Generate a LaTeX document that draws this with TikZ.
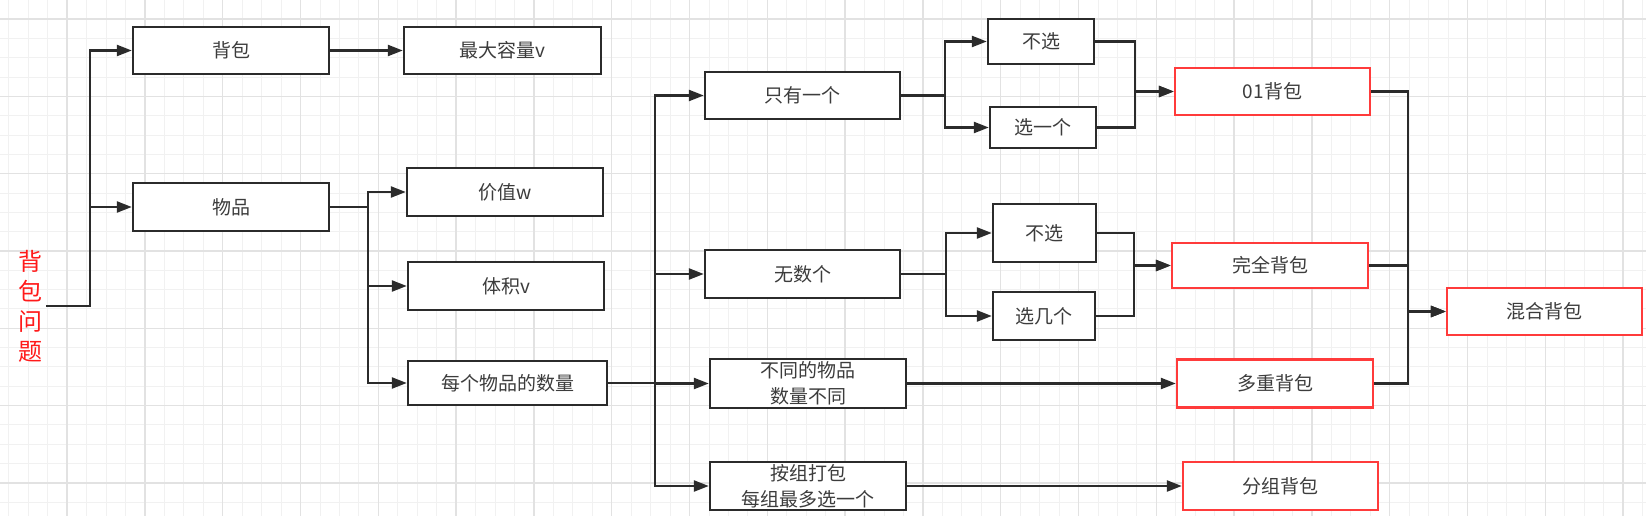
\documentclass[tikz,border=0pt]{standalone}
\usepackage{fontspec}
\setmainfont{Noto Sans CJK SC}
\usetikzlibrary{arrows.meta}
\definecolor{boxline}{HTML}{2B2B2B}
\definecolor{boxtext}{HTML}{3C3C3C}
\definecolor{redline}{HTML}{FF3B3B}
\definecolor{rootred}{HTML}{FF1A1A}
\definecolor{gridminor}{HTML}{F1F1F1}
\definecolor{gridmajor}{HTML}{E2E2E2}

\begin{document}
\begin{tikzpicture}[x=1pt,y=-1pt,->,>={Triangle[length=15pt,width=11pt]},line width=2.4pt,draw=boxline,
  main node/.style={draw=boxline,rectangle,fill=white,inner sep=0pt,minimum width=196pt,minimum height=47pt,align=center,text=boxtext,font=\fontsize{19}{26}\selectfont},
  red node/.style={main node,draw=redline,minimum width=195pt},
  small node/.style={main node,minimum width=106pt,minimum height=45pt}]
    \useasboundingbox (0,0) rectangle (1646,516);
    \fill[white] (0,0) rectangle (1646,516);

    % canvas grid
    \begin{scope}[-,line width=1pt]
        \foreach \i in {0,...,84}
            \draw[gridminor] ({8.8+19.45*\i},0) -- ++(0,516);
        \foreach \i in {0,...,27}
            \draw[gridminor] (0,{19.33*\i-0.3}) -- ++(1646,0);
        \foreach \i in {0,...,21}
            \draw[gridmajor,line width=1.4pt] ({77.8*\i-10.8},0) -- ++(0,516);
        \foreach \i in {0,...,6}
            \draw[gridmajor,line width=1.4pt] (0,{19+77.3*\i}) -- ++(1646,0);
    \end{scope}

    \node (1) at (31,306) [align=center,text=rootred,font=\fontsize{24}{30}\selectfont,inner sep=2pt] {背\\包\\问\\题};
    \node[main node] (2) at (231,50.5) {背包};
    \node[main node,minimum height=48pt] (3) at (231,207) {物品};
    \node[main node,minimum width=197pt] (4) at (502.5,50.5) {最大容量v};
    \node[main node,minimum height=48pt] (5) at (505,192) {价值w};
    \node[main node,minimum height=48pt] (6) at (506,286) {体积v};
    \node[main node,minimum width=199pt,minimum height=44pt] (7) at (507.5,383) {每个物品的数量};
    \node[main node,minimum width=195pt] (8) at (802.5,95.5) {只有一个};
    \node[main node,minimum width=195pt,minimum height=48pt] (9) at (802.5,274) {无数个};
    \node[main node,minimum height=49pt] (10) at (808,383.5) {不同的物品\\数量不同};
    \node[main node,minimum height=48pt] (11) at (808,486) {按组打包\\每组最多选一个};
    \node[small node] (12) at (1041,41.5) {不选};
    \node[small node,minimum height=41pt] (13) at (1043,127.5) {选一个};
    \node[small node,minimum width=103pt,minimum height=58pt] (14) at (1044.5,233) {不选};
    \node[small node,minimum width=102pt,minimum height=48pt] (15) at (1044,316) {选几个};
    \node[red node] (16) at (1272.5,91.5) {01背包};
    \node[red node,minimum width=196pt,minimum height=45pt] (17) at (1270,265.5) {完全背包};
    \node[red node,minimum width=196pt,minimum height=48pt] (18) at (1275,383.5) {多重背包};
    \node[red node,minimum height=48pt] (19) at (1280.5,486) {分组背包};
    \node[red node] (20) at (1544.5,311.5) {混合背包};

    % junctions
    \coordinate (j1) at (90,306);
    \coordinate (j2) at (368,207);
    \coordinate (j3) at (655,383);
    \coordinate (j4) at (945,95.5);
    \coordinate (j5) at (946,274);
    \coordinate (m1) at (1135,91.5);
    \coordinate (m2) at (1134,265.5);
    \coordinate (m3) at (1408,311.5);

    \draw (1) -- (j1) |- (2);
    \draw (1) -- (j1) |- (3);
    \draw (2) -- (4);
    \draw (3) -- (j2) |- (5);
    \draw (3) -- (j2) |- (6);
    \draw (3) -- (j2) |- (7);
    \draw (7) -- (j3) |- (8);
    \draw (7) -- (j3) |- (9);
    \draw (7) -- (j3) |- (10);
    \draw (7) -- (j3) |- (11);
    \draw (8) -- (j4) |- (12);
    \draw (8) -- (j4) |- (13);
    \draw (9) -- (j5) |- (14);
    \draw (9) -- (j5) |- (15);
    \draw (12.east) -| (m1) -- (16);
    \draw (13.east) -| (m1) -- (16);
    \draw (14.east) -| (m2) -- (17);
    \draw (15.east) -| (m2) -- (17);
    \draw (10) -- (18);
    \draw (11) -- (19);
    \draw (16.east) -| (m3) -- (20);
    \draw (17.east) -| (m3) -- (20);
    \draw (18.east) -| (m3) -- (20);
\end{tikzpicture}
\end{document}
